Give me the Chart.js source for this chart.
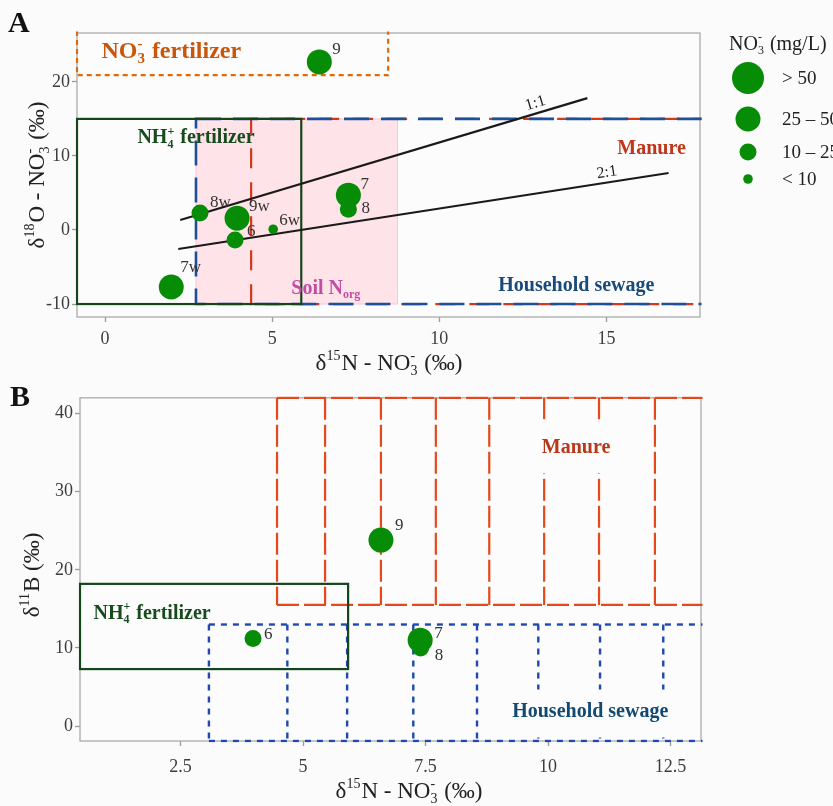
<!DOCTYPE html>
<html>
<head>
<meta charset="utf-8">
<script src="https://cdn.jsdelivr.net/npm/chart.js@4.4.1/dist/chart.umd.min.js"></script>
<style>
html, body { margin: 0; padding: 0; background: #fbfbfb; }
#wrap { position: relative; width: 833px; height: 806px; overflow: hidden; }
#chartA { position: absolute; left: 0; top: 0; }
#chartB { position: absolute; left: 0; top: 385px; }
</style>
</head>
<body>
<div id="wrap">
  <canvas id="chartA" width="833" height="385"></canvas>
  <canvas id="chartB" width="833" height="421"></canvas>
</div>
<script>
const SERIF = '"Liberation Serif", "DejaVu Serif", serif';
const GREEN = '#078c07';
const PANEL_BG = '#fcfcfc';

// panel A: d15N vs d18O of nitrate
const samplesA = ['9', '7', '8', '8w', '9w', '6', '6w', '7w'];
const d15nA = [6.41, 7.28, 7.28, 2.84, 3.95, 3.89, 5.03, 1.98];
const d18oA = [22.7, 4.7, 2.8, 2.3, 1.6, -1.35, 0.1, -7.7];
const no3ClassA = [1, 1, 2, 2, 1, 2, 3, 1];

// panel B: d15N vs d11B
const samplesB = ['9', '6', '7', '8'];
const d15nB = [6.59, 3.98, 7.39, 7.40];
const d11bB = [23.8, 11.2, 11.0, 10.0];
const no3ClassB = [1, 2, 1, 2];

const no3Classes = ['> 50', '25 – 50', '10 – 25', '< 10'];

const xTicksA = [0, 5, 10, 15];
const yTicksA = [-10, 0, 10, 20];
const xTicksB = [2.5, 5, 7.5, 10, 12.5];
const yTicksB = [0, 10, 20, 30, 40];

// denitrification lines
const line11X = [2.25, 14.43];
const line11Y = [1.35, 17.8];
const line21X = [2.19, 16.86];
const line21Y = [-2.57, 7.7];

// source ranges [xmin, xmax, ymin, ymax]
const no3FertA = [-0.84, 8.47, 20.9, 30];
const nh4FertA = [-0.84, 5.87, -10, 15];
const soilA = [2.72, 8.75, -10, 15];
const manureA = [4.37, 25, -10, 15];
const sewageA = [2.72, 25, -10, 15];

const nh4FertB = [0.45, 5.92, 7.3, 18.2];
const manureXB = [4.47, 5.45, 6.59, 7.71, 8.8, 9.92, 11.04, 12.18];
const manureYB = [15.5, 42];
const sewageXB = [3.08, 4.68, 5.9, 7.25, 8.55, 9.8, 11.06, 12.35];
const sewageYB = [-1.9, 13];

const classRadius = [16, 12.5, 8.5, 4.8];
const labelOffsetA = [[16, -12], [15, -11], [16, -1], [13, -10], [15, -12], [15, -8], [9, -9], [12, -19]];
const labelOffsetB = [[17, -15], [14, -4], [17, -7], [17, 8]];

const NO3 = ['NO', { sub: '3', sup: '-' }];
const xTitle = ['δ', { sup: '15' }, 'N - ', ...NO3, ' (‰)'];

function drawRich(ctx, runs, x, y, size, opts = {}) {
    const weight = opts.bold ? 'bold ' : '';
    const big = `${weight}${size}px ${SERIF}`;
    const small = `${weight}${Math.round(size * 0.62)}px ${SERIF}`;
    const widths = runs.map(r => {
        if (typeof r === 'string') { ctx.font = big; return ctx.measureText(r).width; }
        ctx.font = small;
        const a = r.sub ? ctx.measureText(r.sub).width : 0;
        const b = r.sup ? ctx.measureText(r.sup).width : 0;
        return Math.max(a, b) + 1;
    });
    const total = widths.reduce((s, w) => s + w, 0);
    let cx = opts.align === 'left' ? x : x - total / 2;
    const base = y + size * 0.33;
    ctx.textAlign = 'left';
    ctx.textBaseline = 'alphabetic';
    ctx.fillStyle = opts.color || '#222';
    runs.forEach((r, i) => {
        if (typeof r === 'string') {
            ctx.font = big;
            ctx.fillText(r, cx, base);
        } else {
            ctx.font = small;
            if (r.sup) ctx.fillText(r.sup, cx, base - size * 0.42);
            if (r.sub) ctx.fillText(r.sub, cx, base + size * 0.22);
        }
        cx += widths[i];
    });
    return total;
}

function toPx(chart, xv, yv) {
    return [chart.scales.x.getPixelForValue(xv), chart.scales.y.getPixelForValue(yv)];
}

function strokeBox(ctx, chart, r, color, width, dash) {
    const [x0, y0] = toPx(chart, r[0], r[2]);
    const [x1, y1] = toPx(chart, r[1], r[3]);
    ctx.save();
    ctx.strokeStyle = color;
    ctx.lineWidth = width;
    ctx.setLineDash(dash || []);
    ctx.strokeRect(x0, y1, x1 - x0, y0 - y1);
    ctx.restore();
}

function fillBox(ctx, chart, r, color) {
    const [x0, y0] = toPx(chart, r[0], r[2]);
    const [x1, y1] = toPx(chart, r[1], r[3]);
    ctx.fillStyle = color;
    ctx.fillRect(x0, y1, x1 - x0, y0 - y1);
}

function segment(ctx, p0, p1, color, width, dash) {
    ctx.save();
    ctx.strokeStyle = color;
    ctx.lineWidth = width;
    ctx.setLineDash(dash || []);
    ctx.beginPath();
    ctx.moveTo(p0[0], p0[1]);
    ctx.lineTo(p1[0], p1[1]);
    ctx.stroke();
    ctx.restore();
}

function clipArea(ctx, a) {
    ctx.beginPath();
    ctx.rect(a.left - 1.5, a.top - 1.5, a.right - a.left + 3, a.bottom - a.top + 3);
    ctx.clip();
}

function panelFrame(chart) {
    const { ctx, chartArea: a } = chart;
    ctx.save();
    ctx.strokeStyle = '#ababab';
    ctx.lineWidth = 1.3;
    ctx.strokeRect(a.left, a.top, a.right - a.left, a.bottom - a.top);
    ctx.restore();
}

function pointLabels(chart, names, offsets) {
    const { ctx } = chart;
    const meta = chart.getDatasetMeta(0);
    ctx.save();
    ctx.font = `17px ${SERIF}`;
    ctx.fillStyle = '#333';
    ctx.textAlign = 'left';
    ctx.textBaseline = 'middle';
    meta.data.forEach((pt, i) => {
        ctx.fillText(names[i], pt.x + offsets[i][0] - 3, pt.y + offsets[i][1]);
    });
    ctx.restore();
}

function axisX(min, max, ticks, height, pad) {
    return {
        type: 'linear', min, max,
        afterBuildTicks: s => { s.ticks = ticks.map(v => ({ value: v })); },
        afterFit: s => { s.height = height; },
        grid: { drawOnChartArea: false, drawTicks: true, tickLength: 5, tickColor: '#9a9a9a', tickWidth: 1.3 },
        border: { display: false },
        ticks: { callback: v => String(v), font: { family: SERIF, size: 18 }, color: '#3d3d3d', padding: pad, maxRotation: 0 }
    };
}

function axisY(min, max, ticks, width) {
    return {
        type: 'linear', min, max,
        afterBuildTicks: s => { s.ticks = ticks.map(v => ({ value: v })); },
        afterFit: s => { s.width = width; },
        grid: { drawOnChartArea: false, drawTicks: true, tickLength: 5, tickColor: '#9a9a9a', tickWidth: 1.3 },
        border: { display: false },
        ticks: { callback: v => String(v), font: { family: SERIF, size: 18 }, color: '#3d3d3d', padding: 2 }
    };
}

function pointData(xs, ys) {
    return xs.map((x, i) => ({ x, y: ys[i] }));
}

const panelAPlugin = {
    id: 'panelA',
    beforeDraw(chart) {
        const { ctx, chartArea: a } = chart;
        ctx.fillStyle = PANEL_BG;
        ctx.fillRect(a.left, a.top, a.right - a.left, a.bottom - a.top);
    },
    beforeDatasetsDraw(chart) {
        const { ctx, chartArea: a } = chart;
        panelFrame(chart);
        ctx.save();
        clipArea(ctx, a);
        fillBox(ctx, chart, soilA, 'rgba(255, 205, 215, 0.55)');
        strokeBox(ctx, chart, soilA, 'rgba(240, 190, 215, 0.8)', 1);
        strokeBox(ctx, chart, manureA, '#cf3a1c', 2.2, [20, 14]);
        strokeBox(ctx, chart, sewageA, '#1f4f98', 2.6, [25, 12]);
        strokeBox(ctx, chart, nh4FertA, '#15461a', 2.2);
        strokeBox(ctx, chart, no3FertA, '#e2680c', 2.2, [5, 4]);

        let p = toPx(chart, 1.98, 24.3);
        drawRich(ctx, ['NO', { sub: '3', sup: '-' }, ' fertilizer'], p[0], p[1], 24, { bold: true, color: '#c8560c' });
        p = toPx(chart, 2.72, 12.6);
        drawRich(ctx, ['NH', { sub: '4', sup: '+' }, ' fertilizer'], p[0], p[1], 20, { bold: true, color: '#174a1c' });
        p = toPx(chart, 16.35, 11.1);
        drawRich(ctx, ['Manure'], p[0], p[1], 20, { bold: true, color: '#c0361a' });
        p = toPx(chart, 6.62, -7.7);
        drawRich(ctx, ['Soil N', { sub: 'org' }], p[0], p[1], 20, { bold: true, color: '#c24ca6' });
        p = toPx(chart, 14.1, -7.4);
        drawRich(ctx, ['Household sewage'], p[0], p[1], 20, { bold: true, color: '#184b7c' });

        // ratio labels along the lines
        [[line11X, line11Y, 12.96, '1:1'], [line21X, line21Y, 15.06, '2:1']].forEach(([lx, ly, at, txt]) => {
            const p0 = toPx(chart, lx[0], ly[0]);
            const p1 = toPx(chart, lx[1], ly[1]);
            const ang = Math.atan2(p1[1] - p0[1], p1[0] - p0[0]);
            const yAt = ly[0] + (ly[1] - ly[0]) * (at - lx[0]) / (lx[1] - lx[0]);
            const q = toPx(chart, at, yAt);
            ctx.save();
            ctx.translate(q[0] + 10 * Math.sin(ang), q[1] - 10 * Math.cos(ang));
            ctx.rotate(ang);
            ctx.font = `16px ${SERIF}`;
            ctx.fillStyle = '#222';
            ctx.textAlign = 'center';
            ctx.textBaseline = 'middle';
            ctx.fillText(txt, 0, 0);
            ctx.restore();
        });
        ctx.restore();
    },
    afterDatasetsDraw(chart) {
        pointLabels(chart, samplesA, labelOffsetA);
    },
    afterDraw(chart) {
        const { ctx, chartArea: a } = chart;
        drawRich(ctx, xTitle, 389, 362, 23);
        ctx.save();
        ctx.translate(36, (a.top + a.bottom) / 2);
        ctx.rotate(-Math.PI / 2);
        drawRich(ctx, ['δ', { sup: '18' }, 'O - ', ...NO3, ' (‰)'], 0, 0, 23);
        ctx.restore();

        ctx.font = `bold 30px ${SERIF}`;
        ctx.fillStyle = '#111';
        ctx.textAlign = 'left';
        ctx.textBaseline = 'middle';
        ctx.fillText('A', 8, 24);

        // legend
        drawRich(ctx, [...NO3, ' (mg/L)'], 729, 43, 20, { align: 'left' });
        const rowY = [78, 119, 152, 179];
        no3Classes.forEach((label, i) => {
            ctx.beginPath();
            ctx.arc(748, rowY[i], classRadius[i], 0, Math.PI * 2);
            ctx.fillStyle = GREEN;
            ctx.fill();
            ctx.font = `19px ${SERIF}`;
            ctx.fillStyle = '#222';
            ctx.textAlign = 'left';
            ctx.textBaseline = 'middle';
            ctx.fillText(label, 782, rowY[i] + 1);
        });
    }
};

const panelBPlugin = {
    id: 'panelB',
    beforeDraw(chart) {
        const { ctx, chartArea: a } = chart;
        ctx.fillStyle = PANEL_BG;
        ctx.fillRect(a.left, a.top, a.right - a.left, a.bottom - a.top);
    },
    beforeDatasetsDraw(chart) {
        const { ctx, chartArea: a } = chart;
        panelFrame(chart);
        ctx.save();
        clipArea(ctx, a);
        const farX = chart.scales.x.max + 2;

        // manure ranges
        const mRed = '#e4481b';
        segment(ctx, toPx(chart, manureXB[0], manureYB[1]), toPx(chart, farX, manureYB[1]), mRed, 2.2, [22, 5]);
        segment(ctx, toPx(chart, manureXB[0], manureYB[0]), toPx(chart, farX, manureYB[0]), mRed, 2.2, [22, 5]);
        manureXB.forEach(xv => {
            segment(ctx, toPx(chart, xv, manureYB[1]), toPx(chart, xv, manureYB[0]), mRed, 2.2, [22, 5]);
        });

        // household sewage ranges
        const sBlue = '#1e49b0';
        segment(ctx, toPx(chart, sewageXB[0], sewageYB[1]), toPx(chart, farX, sewageYB[1]), sBlue, 2.4, [6, 6]);
        segment(ctx, toPx(chart, sewageXB[0], sewageYB[0]), toPx(chart, farX, sewageYB[0]), sBlue, 2.4, [6, 6]);
        sewageXB.forEach(xv => {
            segment(ctx, toPx(chart, xv, sewageYB[1]), toPx(chart, xv, sewageYB[0]), sBlue, 2.4, [6, 6]);
        });

        strokeBox(ctx, chart, nh4FertB, '#15461a', 2.2);

        let p = toPx(chart, 10.57, 35.8);
        ctx.fillStyle = PANEL_BG;
        ctx.fillRect(p[0] - 45, p[1] - 27, 90, 54);
        drawRich(ctx, ['Manure'], p[0], p[1], 20, { bold: true, color: '#b8391a' });
        p = toPx(chart, 10.86, 2.0);
        ctx.fillStyle = PANEL_BG;
        ctx.fillRect(p[0] - 95, p[1] - 21, 190, 48);
        drawRich(ctx, ['Household sewage'], p[0], p[1], 20, { bold: true, color: '#124a72' });
        p = toPx(chart, 1.92, 14.6);
        drawRich(ctx, ['NH', { sub: '4', sup: '+' }, ' fertilizer'], p[0], p[1], 20, { bold: true, color: '#174a1c' });
        ctx.restore();
    },
    afterDatasetsDraw(chart) {
        pointLabels(chart, samplesB, labelOffsetB);
    },
    afterDraw(chart) {
        const { ctx } = chart;
        drawRich(ctx, xTitle, 409, 405, 23);
        ctx.save();
        ctx.translate(31, 190);
        ctx.rotate(-Math.PI / 2);
        drawRich(ctx, ['δ', { sup: '11' }, 'B (‰)'], 0, 0, 23);
        ctx.restore();

        ctx.font = `bold 30px ${SERIF}`;
        ctx.fillStyle = '#111';
        ctx.textAlign = 'left';
        ctx.textBaseline = 'middle';
        ctx.fillText('B', 10, 13);
    }
};

const baseOptions = {
    responsive: false,
    animation: false,
    events: [],
    plugins: { legend: { display: false }, tooltip: { enabled: false } }
};

new Chart(document.getElementById('chartA'), {
    type: 'scatter',
    data: {
        datasets: [
            {
                data: pointData(d15nA, d18oA),
                pointRadius: no3ClassA.map(c => classRadius[c]),
                backgroundColor: GREEN, borderColor: GREEN, borderWidth: 0, order: 0
            },
            { type: 'line', data: pointData(line11X, line11Y), borderColor: '#1a1a1a', borderWidth: 2.2, pointRadius: 0, order: 1 },
            { type: 'line', data: pointData(line21X, line21Y), borderColor: '#1a1a1a', borderWidth: 2.2, pointRadius: 0, order: 1 }
        ]
    },
    options: {
        ...baseOptions,
        layout: { padding: { left: 0, right: 133, top: 33, bottom: 0 }, autoPadding: false },
        scales: {
            x: axisX(-0.84, 17.8, xTicksA, 68, 6),
            y: axisY(-11.75, 26.6, yTicksA, 77)
        }
    },
    plugins: [panelAPlugin]
});

new Chart(document.getElementById('chartB'), {
    type: 'scatter',
    data: {
        datasets: [
            {
                data: pointData(d15nB, d11bB),
                pointRadius: no3ClassB.map(c => classRadius[c]),
                backgroundColor: GREEN, borderColor: GREEN, borderWidth: 0
            }
        ]
    },
    options: {
        ...baseOptions,
        layout: { padding: { left: 0, right: 132, top: 8, bottom: 0 }, autoPadding: false },
        scales: {
            x: axisX(0.45, 13.12, xTicksB, 65, 10),
            y: axisY(-1.9, 42, yTicksB, 80)
        }
    },
    plugins: [panelBPlugin]
});
</script>
</body>
</html>
